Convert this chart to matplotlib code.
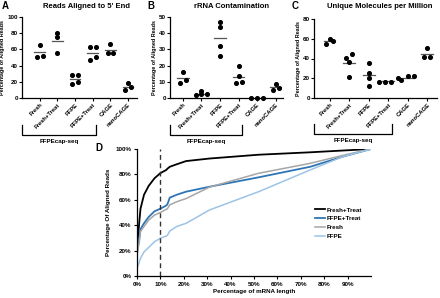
import matplotlib
matplotlib.use("Agg")
import matplotlib.pyplot as plt
import matplotlib.transforms as mtransforms
from matplotlib.ticker import FuncFormatter
import numpy as np

plt.rcParams['font.family'] = ['Liberation Sans', 'DejaVu Sans']
plt.rcParams['font.weight'] = 'bold'
plt.rcParams['axes.labelweight'] = 'bold'

# categorias de los paneles A, B y C
categorias = ['Fresh', 'Fresh+Treat', 'FFPE', 'FFPE+Treat', 'CAGE', 'nanoCAGE']

# A: Reads aligned to 5' end (%)
alineados_5 = [[66, 51, 52], [80, 75, 55], [28, 28, 17, 20],
               [63, 63, 51, 47], [67, 55, 56], [18, 10, 13]]
# B: rRNA contamination (%)
rrna = [[16, 9.3, 11], [4.4, 1.7, 2.3, 2.3], [47, 44, 32, 26],
        [20, 13.5, 9, 10], [0, 0, 0], [8.5, 4.8, 6.2]]
# C: unique molecules per million
moleculas = [[60, 55, 58], [45, 41, 36, 21], [35, 25, 20, 12],
             [20, 16, 16, 16], [22, 22, 18], [51, 42, 42]]

# D: distribucion acumulada a lo largo del mRNA
pct_largo = [0, 1, 1.5, 3, 5, 7.5, 10, 12.5, 13, 14, 17, 21, 31, 52, 74, 88, 100]
curva_fresh_treat = [22, 43, 53, 64, 71, 77, 81, 83.5, 84.5, 86, 88, 90.5, 92.5, 95.5, 97.4, 98.8, 100]
curva_ffpe_treat = [19, 30, 37, 41.5, 46.5, 51, 53, 55.5, 56.5, 61.7, 64, 66.4, 70.3, 77.7, 86, 94, 100]
curva_fresh = [16.5, 27, 35, 39, 44, 48, 50, 52.5, 53, 56, 58.5, 61, 70, 80.9, 88.7, 95, 100]
curva_ffpe = [6, 11, 14, 19, 22.5, 27, 29.7, 31.5, 32, 35.4, 39, 41.5, 52, 66.4, 83.5, 94, 100]

fig = plt.figure(figsize=(4.4, 2.98), dpi=100)


def enjambre(valores, escala_y, d=0.32):
    # agrupa los puntos cercanos en filas y las reparte simetricas (tipo Prism)
    orden = np.argsort(valores)
    xs = np.zeros(len(valores))
    filas = []
    for i in orden:
        if filas and (valores[i] - valores[filas[-1][0]]) * escala_y < 4.0:
            filas[-1].append(i)
        else:
            filas.append([i])
    for fila in filas:
        n = len(fila)
        for j, i in enumerate(fila):
            xs[i] = (j - (n - 1) / 2.0) * d
    return xs


def panel(rect, datos, ymax, paso, titulo, letra, xlim, tit_x):
    ax = fig.add_axes(rect)
    alto_px = rect[3] * 298
    escala_y = alto_px / ymax
    for i, vals in enumerate(datos):
        off = enjambre(vals, escala_y)
        ax.scatter(i + off, vals, s=7, c='black', zorder=3, clip_on=False)
        ax.plot([i - 0.3, i + 0.3], [np.mean(vals)] * 2, color='#555555', lw=0.9, zorder=2)
    ax.set_xlim(*xlim)
    ax.set_ylim(0, ymax)
    ax.set_yticks(np.arange(0, ymax + 1, paso))
    ax.set_xticks(range(len(categorias)))
    ax.set_xticklabels(categorias, rotation=45, ha='right', rotation_mode='anchor', fontsize=4.2)
    ax.tick_params(axis='y', labelsize=4.5, length=2, width=0.8, pad=1)
    ax.tick_params(axis='x', length=2, width=0.8, pad=1)
    for s in ['top', 'right']:
        ax.spines[s].set_visible(False)
    for s in ['left', 'bottom']:
        ax.spines[s].set_linewidth(0.9)
    ax.set_ylabel('Percentage of Aligned Reads', fontsize=3.9, labelpad=1.5)
    fig.text(tit_x / 440, 1 - 7 / 298, titulo, fontsize=5.5, ha='center', va='center')
    fig.text(letra[1] / 440, 1 - 6 / 298, letra[0], fontsize=7, ha='left', va='center')
    # corchete FFPEcap-seq
    tr = mtransforms.blended_transform_factory(ax.transData, ax.transAxes)
    x0, x1 = xlim[0], 3.2
    ax.plot([x0, x0, x1, x1], [-0.33, -0.46, -0.46, -0.33], color='black', lw=0.9,
            transform=tr, clip_on=False)
    ax.text((x0 + x1) / 2, -0.54, 'FFPEcap-seq', fontsize=4.5, ha='center', va='center',
            transform=tr)
    return ax


panel([22 / 440, 1 - 98 / 298, 115 / 440, 81 / 298], alineados_5, 100, 20,
      "Reads Aligned to 5' End", ('A', 2), (-1.0, 5.5), 86)
panel([170 / 440, 1 - 98 / 298, 113 / 440, 81 / 298], rrna, 50, 10,
      'rRNA Contamination', ('B', 147), (-0.7, 5.4), 232)
panel([314 / 440, 1 - 98 / 298, 123 / 440, 79 / 298], moleculas, 80, 20,
      'Unique Molecules per Million', ('C', 292), (-0.8, 5.5), 380)

# Panel D
axd = fig.add_axes([137 / 440, 1 - 276 / 298, 234 / 440, 127 / 298])
axd.plot(pct_largo, curva_fresh_treat, color='black', lw=1.3, label='Fresh+Treat')
axd.plot(pct_largo, curva_ffpe_treat, color='#2E75B6', lw=1.3, label='FFPE+Treat')
axd.plot(pct_largo, curva_fresh, color='#A6A6A6', lw=1.1, label='Fresh')
axd.plot(pct_largo, curva_ffpe, color='#9DC3E6', lw=1.1, label='FFPE')
axd.axvline(10, color='#333333', lw=1.0, ls=(0, (3.5, 2.5)))
axd.set_xlim(0, 100)
axd.set_ylim(0, 100)
axd.set_xticks(range(0, 91, 10))
axd.set_yticks(range(0, 101, 20))
pct = FuncFormatter(lambda v, p: '%d%%' % v)
axd.xaxis.set_major_formatter(pct)
axd.yaxis.set_major_formatter(pct)
axd.tick_params(labelsize=4.5, length=2, width=0.8, pad=2)
for s in ['top', 'right']:
    axd.spines[s].set_visible(False)
for s in ['left', 'bottom']:
    axd.spines[s].set_linewidth(0.9)
axd.set_xlabel('Percentage of mRNA length', fontsize=4.5, labelpad=2)
axd.set_ylabel('Percentage Of Aligned Reads', fontsize=4.5, labelpad=3)
fig.text(95 / 440, 1 - 148 / 298, 'D', fontsize=7, ha='left', va='center')
axd.legend(loc='upper left', bbox_to_anchor=(312 / 440, 1 - 204 / 298),
           bbox_transform=fig.transFigure, frameon=False, fontsize=4.5,
           handlelength=1.6, handletextpad=0.3, labelspacing=0.55, borderpad=0)

fig.savefig('out.png', dpi=100)
